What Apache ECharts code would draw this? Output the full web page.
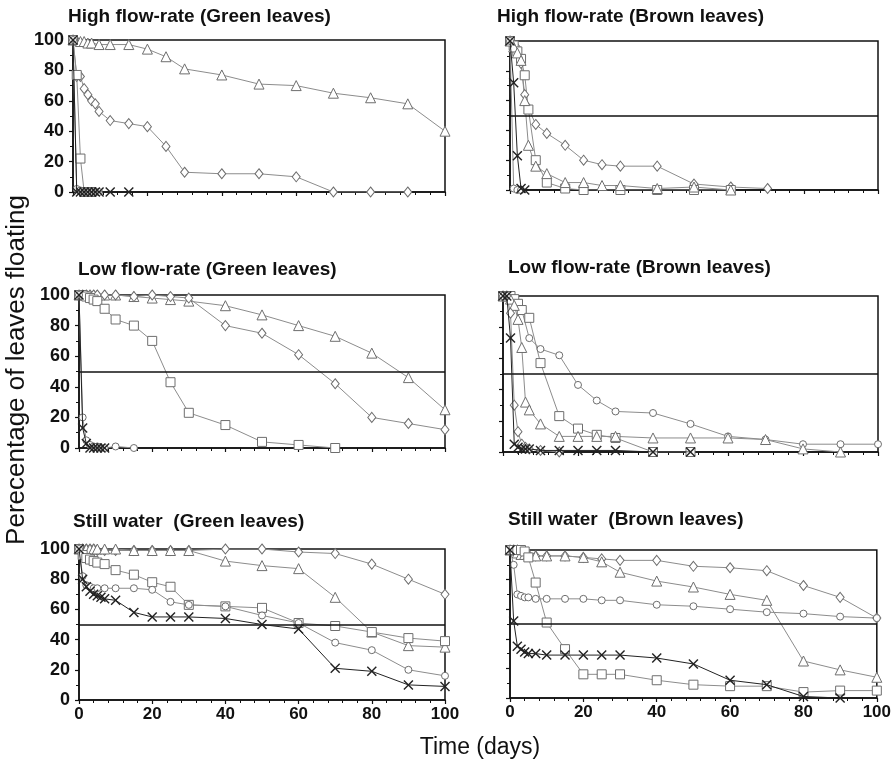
<!DOCTYPE html>
<html>
<head>
<meta charset="utf-8">
<script src="https://cdn.jsdelivr.net/npm/echarts@6/dist/echarts.min.js"></script>
<style>html,body{margin:0;padding:0;background:#fff;}#c{width:894px;height:770px;}</style>
</head>
<body>
<div id="c"></div>
<script>
// ---------- DATA ----------
const panelTitles = ["High flow-rate (Green leaves)","High flow-rate (Brown leaves)","Low flow-rate (Green leaves)","Low flow-rate (Brown leaves)","Still water  (Green leaves)","Still water  (Brown leaves)"];
const xTicks = [0,20,40,60,80,100];
const yTicks = [0,20,40,60,80,100];
const stdDays = [0,1,2,3,4,5,7,10,15,20,25,30,40,50,60,70,80,90,100];

// High flow-rate, green
const TL_tri_days = [0,1,2,3,4,5,7,10,15,20,25,30,40,50,60,70,80,90,100];
const TL_tri = [100,100,99,99,98,98,97,97,97,94,89,81,77,71,70,65,62,58,40];
const TL_dia_days = [0,1,2,3,4,5,6,7,10,15,20,25,30,40,50,60,70,80,90];
const TL_dia = [100,76,76,68,64,60,58,53,47,45,43,30,13,12,12,10,0,0,0];
const TL_sq_days = [0,1,2,3,4,5];
const TL_sq = [100,77,22,0,0,0];
const TL_cir_days = [0,1,2,3,4,5,6,7];
const TL_cir = [100,2,1,0,0,0,0,0];
const TL_x_days = [0,1,2,3,4,5,6,7,10,15];
const TL_x = [100,0,0,0,0,0,0,0,0,0];

// High flow-rate, brown
const TR_dia_days = [0,1,2,3,4,5,7,10,15,20,25,30,40,50,60,70];
const TR_dia = [100,98,95,85,64,55,44,38,30,20,17,16,16,4,2,1];
const TR_sq_days = [0,1,2,3,4,5,7,10,15,20,30,40,50,60];
const TR_sq = [100,97,93,88,77,54,20,5,1,0,0,0,0,0];
const TR_tri_days = [0,1,2,3,4,5,7,10,15,20,25,30,40,50,60];
const TR_tri = [100,96,92,87,60,30,16,11,5,5,3,3,1,2,0];
const TR_cir_days = [0,1,2,3];
const TR_cir = [100,1,0,0];
const TR_x_days = [0,1,2,3,4];
const TR_x = [100,72,23,1,0];

// Low flow-rate, green
const ML_tri = [100,100,100,100,100,100,100,100,99,98,97,96,93,87,80,73,62,46,25];
const ML_dia = [100,100,100,100,100,100,100,100,99,100,99,98,80,75,61,42,20,16,12];
const ML_sq_days = [0,1,2,3,4,5,7,10,15,20,25,30,40,50,60,70];
const ML_sq = [100,100,99,98,97,96,91,84,80,70,43,23,15,4,2,0];
const ML_cir_days = [0,1,2,3,4,5,6,7,10,15];
const ML_cir = [100,20,5,2,1,1,0,0,1,0];
const ML_x_days = [0,1,2,3,4,5,6,7];
const ML_x = [100,13,3,0,0,0,0,0];

// Low flow-rate, brown
const MR_dia = [100,100,99,97,95,91,73,66,62,43,33,26,25,18,10,8,5,5,5];
const MR_sq_days = [0,1,2,3,4,5,7,10,15,20,25,30,40,50];
const MR_sq = [100,100,100,98,95,91,86,57,23,15,11,9,0,0];
const MR_tri_days = [0,1,2,3,4,5,6,7,10,15,20,25,30,40,50,60,70,80,90];
const MR_tri = [100,100,98,94,85,67,32,27,18,10,10,10,10,9,9,9,8,2,0];
const MR_cir_days = [0,1,2,3,4,5,6,7,10,15];
const MR_cir = [100,100,89,30,13,5,3,2,1,0];
const MR_x_days = [0,1,2,3,4,5,6,7,10,15,20,25,30,40,50];
const MR_x = [100,100,73,5,3,2,2,2,1,1,1,1,1,0,0];

// Still water, green
const BL_dia = [100,100,100,100,100,99,99,99,99,99,99,99,100,100,98,97,90,80,70];
const BL_tri = [100,100,100,100,100,100,100,100,99,99,99,99,92,89,87,68,45,36,35];
const BL_sq = [100,96,94,93,92,91,90,86,83,78,75,63,62,61,51,49,45,41,39];
const BL_cir = [100,82,76,75,74,74,74,74,74,73,65,63,62,56,51,38,33,20,16];
const BL_x_days = [0,1,2,3,4,5,6,7,10,15,20,25,30,40,50,60,70,80,90,100];
const BL_x = [100,80,75,72,70,69,68,67,66,58,55,55,55,54,50,47,21,19,10,9];

// Still water, brown
const BR_dia = [100,100,100,99,98,97,96,96,96,95,94,93,93,89,88,86,76,68,54];
const BR_tri = [100,100,98,97,97,97,96,96,96,95,92,85,79,75,70,66,25,19,14];
const BR_cir = [100,90,70,69,68,68,67,67,67,67,66,66,63,62,60,58,57,55,54];
const BR_sq = [100,100,100,100,99,95,78,51,33,16,16,16,12,9,8,8,4,5,5];
const BR_x_days = [0,1,2,3,4,5,7,10,15,20,25,30,40,50,60,70,80,90];
const BR_x = [100,52,35,33,31,30,30,29,29,29,29,29,27,23,12,9,1,0];

// ---------- LAYOUT ----------
const grids = [
  {left:73, top:40, width:372, height:152},
  {left:510, top:41, width:368, height:149},
  {left:79, top:295, width:366, height:153},
  {left:503, top:296, width:375, height:156},
  {left:79, top:549, width:366, height:151},
  {left:510, top:550, width:368, height:148}
];
const titlePos = [[68,7],[497,7],[78,260],[508,258],[73,512],[508,510]];
const FONT = '"Liberation Sans", Arial, sans-serif';

const CROSS = 'path://M0,1L1,0L5,4L9,0L10,1L6,5L10,9L9,10L5,6L1,10L0,9L4,5Z';
const SYM = {
  dia: {symbol:'diamond', size:[8,10]},
  cir: {symbol:'circle', size:7},
  tri: {symbol:'triangle', size:10},
  sq:  {symbol:'rect', size:9},
  x:   {symbol:CROSS, size:10}
};

function pairs(days, vals){ return days.map((d,i)=>[d, vals[i]]); }

function mk(gi, kind, days, vals, ref){
  const s = SYM[kind];
  const isX = kind === 'x';
  const o = {
    type:'line', xAxisIndex:gi, yAxisIndex:gi,
    data: pairs(days, vals),
    symbol: s.symbol, symbolSize: s.size, showAllSymbol:true,
    lineStyle:{color: isX ? '#222' : '#8c8c8c', width:1},
    itemStyle:{color: isX ? '#222' : '#fff', borderColor: isX ? '#222' : '#6e6e6e', borderWidth: isX ? 0 : 1},
    z: isX ? 5 : 3,
    animation:false, silent:true
  };
  if (ref) {
    o.markLine = {silent:true, symbol:'none', label:{show:false}, animation:false,
      lineStyle:{color:'#111', width:1.5, type:'solid'}, data:[{yAxis:50}]};
  }
  return o;
}

const series = [
  mk(0,'tri',TL_tri_days,TL_tri), mk(0,'dia',TL_dia_days,TL_dia), mk(0,'sq',TL_sq_days,TL_sq),
  mk(0,'cir',TL_cir_days,TL_cir), mk(0,'x',TL_x_days,TL_x),

  mk(1,'dia',TR_dia_days,TR_dia,true), mk(1,'sq',TR_sq_days,TR_sq), mk(1,'tri',TR_tri_days,TR_tri),
  mk(1,'cir',TR_cir_days,TR_cir), mk(1,'x',TR_x_days,TR_x),

  mk(2,'tri',stdDays,ML_tri,true), mk(2,'dia',stdDays,ML_dia), mk(2,'sq',ML_sq_days,ML_sq),
  mk(2,'cir',ML_cir_days,ML_cir), mk(2,'x',ML_x_days,ML_x),

  mk(3,'cir',stdDays,MR_dia,true), mk(3,'sq',MR_sq_days,MR_sq), mk(3,'tri',MR_tri_days,MR_tri),
  mk(3,'dia',MR_cir_days,MR_cir), mk(3,'x',MR_x_days,MR_x),

  mk(4,'dia',stdDays,BL_dia,true), mk(4,'tri',stdDays,BL_tri), mk(4,'sq',stdDays,BL_sq),
  mk(4,'cir',stdDays,BL_cir), mk(4,'x',BL_x_days,BL_x),

  mk(5,'dia',stdDays,BR_dia,true), mk(5,'tri',stdDays,BR_tri), mk(5,'cir',stdDays,BR_cir),
  mk(5,'sq',stdDays,BR_sq), mk(5,'x',BR_x_days,BR_x)
];

const xAxis = grids.map((g,i)=>({
  type:'value', gridIndex:i, min:xTicks[0], max:xTicks[xTicks.length-1], interval:20,
  axisLine:{show:true, onZero:false, lineStyle:{color:'#111', width:1.5}},
  axisTick:{show:true, length:4, lineStyle:{color:'#111', width:1.2}},
  minorTick:{show:true, splitNumber:5, length:3, lineStyle:{color:'#111', width:1}},
  splitLine:{show:false},
  axisLabel:{show: i>=4, fontFamily:FONT, fontSize:17, fontWeight:'bold', color:'#111', margin:6,
    formatter: v => xTicks.includes(v) ? String(v) : ''}
}));
const yAxis = grids.map((g,i)=>({
  type:'value', gridIndex:i, min:yTicks[0], max:yTicks[yTicks.length-1], interval:20,
  axisLine:{show:true, onZero:false, lineStyle:{color:'#111', width:1.5}},
  axisTick:{show:true, length:4, lineStyle:{color:'#111', width:1.2}},
  minorTick:{show:true, splitNumber:2, length:3, lineStyle:{color:'#111', width:1}},
  splitLine:{show:false},
  axisLabel:{show: i%2===0, fontFamily:FONT, fontSize:18, fontWeight:'bold', color:'#111', margin:9,
    formatter: v => yTicks.includes(v) ? String(v) : ''}
}));

const option = {
  backgroundColor:'#fff',
  animation:false,
  title: panelTitles.map((t,i)=>({text:t, left:titlePos[i][0], top:titlePos[i][1],
    textStyle:{fontFamily:FONT, fontSize:19, fontWeight:'bold', color:'#111'}, padding:0})),
  grid: grids.map(g=>Object.assign({show:true, borderColor:'#111', borderWidth:1.5, backgroundColor:'transparent'}, g)),
  xAxis: xAxis,
  yAxis: yAxis,
  graphic:[
    {type:'text', x:17, y:370, rotation:Math.PI/2,
      style:{text:'Perecentage of leaves floating', fill:'#111', font:'26px "Liberation Sans", Arial, sans-serif',
        align:'center', verticalAlign:'middle', textAlign:'center', textVerticalAlign:'middle'}},
    {type:'text', x:480, y:748,
      style:{text:'Time (days)', fill:'#111', font:'23px "Liberation Sans", Arial, sans-serif',
        align:'center', verticalAlign:'middle', textAlign:'center', textVerticalAlign:'middle'}}
  ],
  series: series
};
const chart = echarts.init(document.getElementById('c'), null, {renderer:'canvas'});
chart.setOption(option);
</script>
</body>
</html>
